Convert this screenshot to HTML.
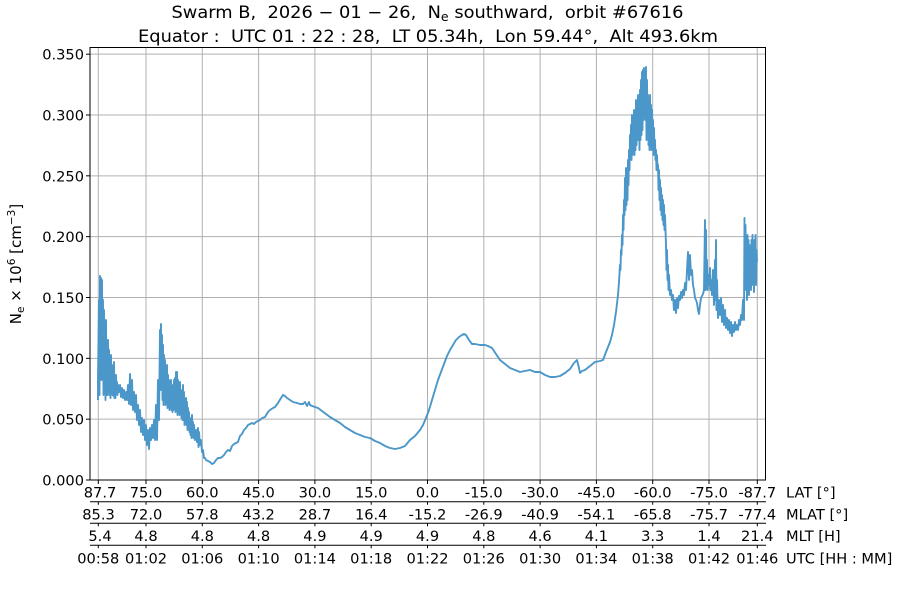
<!DOCTYPE html>
<html><head><meta charset="utf-8"><style>
html,body{margin:0;padding:0;background:#fff;}
svg{display:block;}
text{font-family:"DejaVu Sans","Liberation Sans",sans-serif;fill:#000;}
</style></head><body>
<svg width="900" height="600" viewBox="0 0 900 600" xmlns="http://www.w3.org/2000/svg">
<defs><clipPath id="pc"><rect x="90" y="47.5" width="675.5" height="432.5"/></clipPath></defs>
<rect width="900" height="600" fill="#fff"/>
<!-- title -->
<text x="427.5" y="18" font-size="17" text-anchor="middle" textLength="512" lengthAdjust="spacingAndGlyphs" xml:space="preserve">Swarm B,  2026 − 01 − 26,  N<tspan font-size="12" dy="3">e</tspan><tspan dy="-3"> southward,  orbit #67616</tspan></text>
<text x="428" y="42" font-size="17" text-anchor="middle" textLength="580" lengthAdjust="spacingAndGlyphs" xml:space="preserve">Equator :  UTC 01 : 22 : 28,  LT 05.34h,  Lon 59.44°,  Alt 493.6km</text>
<!-- grid -->
<g stroke="#b0b0b0" stroke-width="1">
<line x1="90" x2="765.5" y1="419.17" y2="419.17"/>
<line x1="90" x2="765.5" y1="358.33" y2="358.33"/>
<line x1="90" x2="765.5" y1="297.5" y2="297.5"/>
<line x1="90" x2="765.5" y1="236.67" y2="236.67"/>
<line x1="90" x2="765.5" y1="175.83" y2="175.83"/>
<line x1="90" x2="765.5" y1="115" y2="115"/>
<line x1="90" x2="765.5" y1="54.17" y2="54.17"/>
<line y1="47.5" y2="480" x1="98.3" x2="98.3"/>
<line y1="47.5" y2="480" x1="146" x2="146"/>
<line y1="47.5" y2="480" x1="202.3" x2="202.3"/>
<line y1="47.5" y2="480" x1="258.6" x2="258.6"/>
<line y1="47.5" y2="480" x1="314.9" x2="314.9"/>
<line y1="47.5" y2="480" x1="371.2" x2="371.2"/>
<line y1="47.5" y2="480" x1="427.5" x2="427.5"/>
<line y1="47.5" y2="480" x1="483.8" x2="483.8"/>
<line y1="47.5" y2="480" x1="540.1" x2="540.1"/>
<line y1="47.5" y2="480" x1="596.4" x2="596.4"/>
<line y1="47.5" y2="480" x1="652.7" x2="652.7"/>
<line y1="47.5" y2="480" x1="709" x2="709"/>
<line y1="47.5" y2="480" x1="757.3" x2="757.3"/>
</g>
<!-- data -->
<g clip-path="url(#pc)">
<polyline fill="none" stroke="#4b97c9" stroke-width="1.9" stroke-linejoin="round" points="
98,400 98,380 99,300 99.5,395 100,276 100.5,340 101,278 101.5,380 102,280 102.5,360 103,300 103.5,395 104,310 104.5,390 105,330 105.5,400 106,320 106.5,395 107,340 107.5,395 108,340 108.5,385 109,350 109.5,395 110,360 110.5,398 111,355 111.5,393 112,365 112.5,395 113,375 113.5,396 114,362 114.5,398 115,380 115.5,398 116,375 116.5,392 117,382 117.5,395 118,385 119,392 120,385 121,397 122,388 123,398 124,390 125,400 126,392 127,400 128,385 129,404 130,374 131,405 132,380 133,410 134,392 135,412 136,395 137,420 138,405 139,425 140,410 141,432 142,418 143,435 144,420 145,440 146,425 147,445 148,430 149,449 150,428 151,440 152,425 153,438 154,420 155,440 156,405 157,440 158,380 159,420 160,330 160.5,390 161,324 161.5,380 162,335 162.5,400 163,345 163.5,405 164,355 164.5,400 165,360 165.5,405 166,370 166.5,398 167,365 167.5,408 168,375 168.5,400 169,380 169.5,410 170,385 170.5,405 171,380 171.5,410 172,390 172.5,412 173,385 173.5,410 174,380 174.5,408 175,378 175.5,412 176,372 176.5,410 177,372 177.5,415 178,380 178.5,408 179,385 179.5,415 180,382 180.5,412 181,390 181.5,418 182,392 182.5,420 183,385 183.5,420 184,392 184.5,425 185,400 185.5,420 186,398 186.5,425 187,402 187.5,430 188,408 188.5,425 189,412 189.5,432 190,418 190.5,435 191,420 191.5,438 192,415 192.5,430 193,422 193.5,438 194,425 195,440 196,430 197,442 198,428 198.5,447 199,432 200,445 201,440 202,452 203,450 204,458 205,458 206,460 208,461 210,462 212,464 214,463 216,460 218,458 220,458 222,457 224,455 226,452 228,450 230,451 232,446 234,444 236,443 238,442 240,436 242,434 244,430 246,428 248,425 250,424 252,423 254,424 256,422 258,421 260,420 262,418 265,417 268,412 270,410 273,408 275,407 278,403 281,398 283,395 285,396 287,398 290,400 293,402 297,403 300,404 303,404 305,402 307,406 309,402 310,405 312,406 315,407 318,408 322,411 326,414 330,417 335,420 340,423 345,427 350,430 355,433 360,435 365,437 370,438 375,441 380,443 385,446 390,448 395,449 400,448 405,446 410,440 415,436 420,430 423,425 426,418 429,410 432,400 435,390 438,380 441,372 444,364 447,356 450,350 453,345 456,340 459,337 462,335 464,334 466,335 469,340 472,344 475,344 480,345 485,345 488,346 492,348 496,354 500,360 505,364 510,368 515,370 520,372 525,371 530,370 535,372 540,372 545,375 550,377 555,377 560,376 565,373 570,369 574,363 577,360 579,368 580,373 582,371 585,370 590,366 595,362 600,361 603,360 606,352 608,347 610,342 612,335 614,325 616,312 618,295 619,282 620,265 620.5,270 621,250 621.5,255 622,235 622.5,245 623,215 623.5,230 624,200 624.5,215 625,178 625.5,210 626,168 626.5,205 627,170 627.5,200 628,160 628.5,185 629,150 629.5,170 630,135 630.5,158 631,125 631.5,160 632,115 632.5,155 633,118 633.5,150 634,110 634.5,155 635,112 635.5,150 636,100 636.5,145 637,108 637.5,140 638,95 638.5,140 639,100 639.5,150 640,90 640.5,140 641,80 641.5,135 642,72 642.5,130 643,70 643.5,120 644,68 644.5,110 645,75 645.5,120 646,67 646.5,140 647,80 647.5,130 648,95 648.5,145 649,100 649.5,150 650,95 650.5,140 651,105 651.5,150 652,110 652.5,148 653,120 653.5,155 654,128 654.5,152 655,140 655.5,160 656,150 656.5,170 657,155 657.5,170 658,165 658.5,190 659,170 659.5,200 660,180 660.5,210 661,188 661.5,215 662,195 662.5,220 663,200 663.5,225 664,205 664.5,230 665,215 666,245 666.5,270 667,250 667.5,280 668,265 668.5,290 669,275 670,295 671,290 672,300 673,295 674,310 675,300 676,313 677,298 678,308 679,296 680,300 681,292 682,298 683,290 684,295 685,283 686,290 687,270 688,252 689,280 690,255 691,275 692,270 693,285 694,290 695,298 696,300 697,303 698,310 699,314 700,305 701,298 702,296 703,294 704,290 705,220 705.5,290 706,230 706.5,288 707,260 707.5,290 708,275 709,285 710,268 710.5,290 711,280 712,295 713,270 714,305 715,260 715.5,300 716,240 716.5,310 717,280 718,318 719,300 720,315 721,298 722,322 723,305 724,325 725,310 726,328 727,318 728,330 729,320 730,333 731,322 732,336 733,325 734,332 735,322 736,330 737,325 738,330 739,320 740,325 741,315 742,320 743,300 744,320 744.5,218 745,280 745.5,225 746,290 746.5,245 747,300 747.5,235 748,275 748.5,240 749,295 749.5,245 750,280 750.5,250 751,290 751.5,240 752,285 752.5,235 753,270 753.5,245 754,292 754.5,240 755,280 755.5,235 756,285 756.5,250 757,262"/>
</g>
<!-- spines -->
<rect x="90" y="47.5" width="675.5" height="432.5" fill="none" stroke="#000" stroke-width="1"/>
<!-- y ticks -->
<g stroke="#000" stroke-width="1">
<line x1="86" x2="90" y1="480" y2="480"/>
<line x1="86" x2="90" y1="419.17" y2="419.17"/>
<line x1="86" x2="90" y1="358.33" y2="358.33"/>
<line x1="86" x2="90" y1="297.5" y2="297.5"/>
<line x1="86" x2="90" y1="236.67" y2="236.67"/>
<line x1="86" x2="90" y1="175.83" y2="175.83"/>
<line x1="86" x2="90" y1="115" y2="115"/>
<line x1="86" x2="90" y1="54.17" y2="54.17"/>
</g>
<g font-size="14.6" text-anchor="end">
<text x="84" y="485.5">0.000</text>
<text x="84" y="424.7">0.050</text>
<text x="84" y="363.8">0.100</text>
<text x="84" y="303">0.150</text>
<text x="84" y="242.2">0.200</text>
<text x="84" y="181.3">0.250</text>
<text x="84" y="120.5">0.300</text>
<text x="84" y="59.7">0.350</text>
</g>
<!-- y label -->
<text transform="translate(21,264) rotate(-90)" font-size="15" text-anchor="middle" xml:space="preserve">N<tspan font-size="10.5" dy="3">e</tspan><tspan dy="-3"> × 10</tspan><tspan font-size="10.5" dy="-6">6</tspan><tspan dy="6"> [cm</tspan><tspan font-size="10.5" dy="-6">−3</tspan><tspan dy="6">]</tspan></text>
<!-- x ticks and separators -->
<g stroke="#000" stroke-width="1">
<line x1="90" x2="766" y1="501.7" y2="501.7"/>
<line x1="90" x2="766" y1="523.3" y2="523.3"/>
<line x1="90" x2="766" y1="545.3" y2="545.3"/>
</g>
<g stroke="#000" stroke-width="1">
<path d="M98.3 480v4M146 480v4M202.3 480v4M258.6 480v4M314.9 480v4M371.2 480v4M427.5 480v4M483.8 480v4M540.1 480v4M596.4 480v4M652.7 480v4M709 480v4M757.3 480v4"/>
<path d="M98.3 501.7v3M146 501.7v3M202.3 501.7v3M258.6 501.7v3M314.9 501.7v3M371.2 501.7v3M427.5 501.7v3M483.8 501.7v3M540.1 501.7v3M596.4 501.7v3M652.7 501.7v3M709 501.7v3M757.3 501.7v3"/>
<path d="M98.3 523.3v3M146 523.3v3M202.3 523.3v3M258.6 523.3v3M314.9 523.3v3M371.2 523.3v3M427.5 523.3v3M483.8 523.3v3M540.1 523.3v3M596.4 523.3v3M652.7 523.3v3M709 523.3v3M757.3 523.3v3"/>
<path d="M98.3 545.3v3M146 545.3v3M202.3 545.3v3M258.6 545.3v3M314.9 545.3v3M371.2 545.3v3M427.5 545.3v3M483.8 545.3v3M540.1 545.3v3M596.4 545.3v3M652.7 545.3v3M709 545.3v3M757.3 545.3v3"/>
</g>
<g font-size="14.6" text-anchor="middle">
<text y="497.7"><tspan x="100">87.7</tspan><tspan x="146">75.0</tspan><tspan x="202.3">60.0</tspan><tspan x="258.6">45.0</tspan><tspan x="314.9">30.0</tspan><tspan x="371.2">15.0</tspan><tspan x="427.5">0.0</tspan><tspan x="483.8">-15.0</tspan><tspan x="540.1">-30.0</tspan><tspan x="596.4">-45.0</tspan><tspan x="652.7">-60.0</tspan><tspan x="709">-75.0</tspan><tspan x="757.3">-87.7</tspan></text>
<text y="519.3"><tspan x="98.5">85.3</tspan><tspan x="146">72.0</tspan><tspan x="202.3">57.8</tspan><tspan x="258.6">43.2</tspan><tspan x="314.9">28.7</tspan><tspan x="371.2">16.4</tspan><tspan x="427.5">-15.2</tspan><tspan x="483.8">-26.9</tspan><tspan x="540.1">-40.9</tspan><tspan x="596.4">-54.1</tspan><tspan x="652.7">-65.8</tspan><tspan x="709">-75.7</tspan><tspan x="757.3">-77.4</tspan></text>
<text y="541"><tspan x="100">5.4</tspan><tspan x="146">4.8</tspan><tspan x="202.3">4.8</tspan><tspan x="258.6">4.8</tspan><tspan x="314.9">4.9</tspan><tspan x="371.2">4.9</tspan><tspan x="427.5">4.9</tspan><tspan x="483.8">4.8</tspan><tspan x="540.1">4.6</tspan><tspan x="596.4">4.1</tspan><tspan x="652.7">3.3</tspan><tspan x="709">1.4</tspan><tspan x="757.3">21.4</tspan></text>
<text y="563.3"><tspan x="98.3">00:58</tspan><tspan x="146">01:02</tspan><tspan x="202.3">01:06</tspan><tspan x="258.6">01:10</tspan><tspan x="314.9">01:14</tspan><tspan x="371.2">01:18</tspan><tspan x="427.5">01:22</tspan><tspan x="483.8">01:26</tspan><tspan x="540.1">01:30</tspan><tspan x="596.4">01:34</tspan><tspan x="652.7">01:38</tspan><tspan x="709">01:42</tspan><tspan x="757.3">01:46</tspan></text>
</g>
<g font-size="14.6">
<text x="786" y="497.7">LAT [°]</text>
<text x="786" y="519.3">MLAT [°]</text>
<text x="786" y="541">MLT [H]</text>
<text x="786" y="563.3" xml:space="preserve">UTC [HH : MM]</text>
</g>
</svg>
</body></html>
